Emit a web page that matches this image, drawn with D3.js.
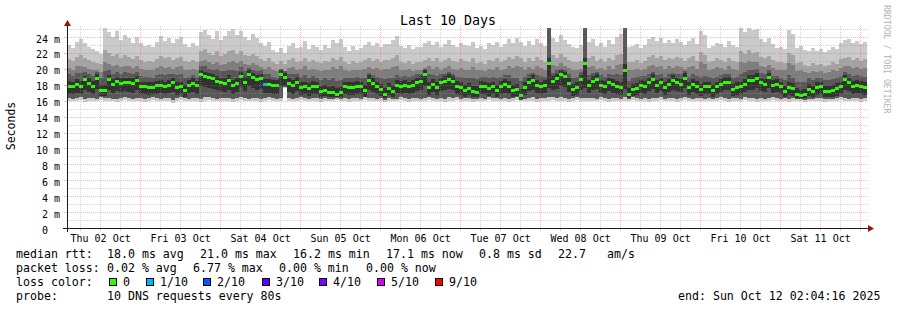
<!DOCTYPE html>
<html><head><meta charset="utf-8">
<script src="https://cdn.jsdelivr.net/npm/d3@7"></script>
<style>
html,body{margin:0;padding:0;background:#fff}
svg{display:block}
text{font-family:"DejaVu Sans Mono",monospace;fill:#000}
</style></head><body>
<svg id="chart" width="897" height="310"></svg>
<script>
// ---------------- DATA ----------------
const titleText = "Last 10 Days";
const yAxisLabel = "Seconds";
const endTime = Date.UTC(2025, 9, 12, 2, 4, 16);
const spanDays = 10;
const yTicks = [0, 2, 4, 6, 8, 10, 12, 14, 16, 18, 20, 22, 24];
const yTickLabels = ["0", "2 m", "4 m", "6 m", "8 m", "10 m", "12 m", "14 m", "16 m", "18 m", "20 m", "22 m", "24 m"];
const dayLabels = ["Thu 02 Oct", "Fri 03 Oct", "Sat 04 Oct", "Sun 05 Oct", "Mon 06 Oct", "Tue 07 Oct", "Wed 08 Oct", "Thu 09 Oct", "Fri 10 Oct", "Sat 11 Oct"];

// median rtt per time step (ms)
const median = [
17.9,17.8,18.1,17.9,18.7,18.2,17.9,18.9,17.35,17.35, 18.7,18.1,18.5,18.2,18.4,18.3,18.2,18.6,17.8,17.85,
17.7,17.75,17.95,18.0,17.85,18.0,18.3,17.7,17.85,17.35, 18.0,18.2,17.95,19.4,19.1,18.95,18.9,18.5,18.3,18.2,
18.6,18.0,18.2,19.1,18.4,19.3,18.95,18.7,18.9,18.1, 18.1,18.0,18.0,19.3,18.95,18.2,18.0,18.4,17.7,17.85,
17.6,17.9,17.8,17.25,17.4,17.05,17.15,16.9,17.05,17.8, 17.7,17.7,17.9,17.8,17.35,18.6,18.2,17.8,17.45,16.85,
17.6,17.25,18.0,17.9,18.0,17.8,18.0,18.3,18.5,19.3, 17.7,18.1,17.7,18.3,18.5,18.7,18.5,17.9,17.7,17.35,
17.6,17.25,17.15,17.9,17.8,17.6,17.85,17.35,17.9,18.1, 17.9,17.35,17.45,16.75,17.7,18.3,18.6,18.0,17.8,18.0,
20.7,18.5,18.9,19.3,19.1,18.2,17.5,17.7,18.7,20.7, 18.0,18.5,18.7,18.0,17.9,18.3,18.1,17.9,17.7,19.8,
16.85,17.5,17.6,18.0,17.9,18.3,18.7,18.0,18.3,17.7, 18.1,18.6,18.3,18.1,18.9,17.7,18.1,17.9,17.5,17.8,
17.8,17.35,17.8,18.1,18.4,18.4,17.5,17.7,17.8,18.1, 18.6,18.6,18.9,18.3,18.1,18.95,18.0,18.1,17.8,17.25,
17.7,17.6,16.9,16.75,16.85,17.5,17.25,17.7,17.8,17.25, 17.25,17.35,17.6,17.85,18.7,18.3,17.9,18.0,17.9,17.7
];
// lowest ping per step
const pMin = [
16.0,15.9,16.0,16.1,15.8,16.0,16.0,15.9,16.1,16.0, 16.0,15.9,15.8,16.0,16.1,16.0,15.9,16.0,16.0,15.8,
16.0,16.1,16.0,15.9,16.0,16.0,15.7,16.0,16.1,16.0, 15.9,16.0,16.0,15.8,16.0,16.1,16.0,15.9,16.0,16.0,
16.0,15.8,16.0,16.1,16.0,15.9,16.0,16.0,15.8,16.0, 16.1,16.0,15.9,16.0,17.6,16.0,15.9,16.0,16.1,16.0,
15.9,16.0,16.0,15.8,16.0,16.0,15.9,16.1,16.0,16.0, 15.8,16.0,16.0,15.9,16.1,16.0,16.0,15.9,16.0,15.8,
16.0,16.0,15.9,16.1,16.0,15.8,16.0,16.0,15.9,16.0, 16.1,16.0,15.9,16.0,15.8,16.0,16.0,16.1,15.9,16.0,
16.0,15.8,16.0,16.0,15.9,16.1,16.0,16.0,15.9,16.0, 15.8,16.0,16.1,16.0,15.9,16.0,16.0,15.8,16.0,16.0,
16.0,16.1,15.9,16.0,16.0,15.8,16.0,16.1,16.0,15.9, 16.0,16.0,15.9,16.1,16.0,15.8,16.0,16.0,15.9,16.0,
16.0,16.1,16.0,15.9,16.0,15.8,16.0,16.0,16.1,15.9, 16.0,16.0,15.8,16.0,16.1,16.0,15.9,16.0,16.0,15.9,
16.0,15.9,16.0,16.1,16.0,15.8,16.0,16.0,15.9,16.1, 16.0,16.0,15.8,16.0,15.9,16.0,16.1,16.0,15.9,16.0,
15.8,16.0,16.0,15.9,15.8,16.0,15.9,16.0,16.0,15.8, 15.9,16.0,16.0,16.1,16.0,15.9,16.0,16.0,15.8,16.0
];
// highest ping per step
const pMax = [
23.0,22.6,23.4,23.8,23.2,22.8,22.5,22.2,21.9,25.2, 24.6,24.0,24.8,23.6,24.2,23.9,23.3,24.0,23.2,22.9,
23.0,22.7,23.4,24.1,23.5,23.9,23.2,23.7,24.0,23.1, 22.8,23.3,22.9,24.6,24.9,24.2,23.8,24.7,23.6,24.1,
24.7,25.0,24.3,24.8,24.0,23.6,24.4,23.9,23.2,22.9, 23.4,22.4,22.1,22.6,22.0,22.9,23.3,22.6,22.8,23.5,
22.5,23.0,22.7,22.4,23.0,22.6,23.6,23.2,23.8,22.7, 22.3,22.9,22.4,22.6,23.0,23.4,22.9,23.3,22.8,23.1,
23.1,23.6,24.1,22.9,22.6,23.0,22.5,22.8,22.7,23.2, 23.5,23.0,23.4,22.8,23.1,23.6,23.0,22.7,23.3,23.0,
22.9,23.4,22.6,22.9,22.5,23.2,23.0,23.4,22.8,23.1, 23.7,23.3,23.9,23.4,22.9,23.5,23.0,23.8,23.2,22.9,
25.9,23.9,23.4,24.2,23.6,23.1,22.8,22.6,23.0,25.9, 23.4,23.8,22.9,23.3,22.7,23.6,23.1,24.0,24.4,25.9,
22.7,22.9,23.1,22.6,23.0,23.7,24.0,23.5,23.9,23.2, 23.6,23.3,23.8,23.4,23.0,23.5,23.9,23.1,24.7,24.2,
22.6,22.9,23.3,23.1,22.7,23.5,23.0,22.8,25.1,24.6, 25.3,24.9,25.0,23.7,23.4,23.9,23.1,22.6,22.8,22.5,
24.9,24.4,22.6,22.9,22.4,22.2,22.6,22.3,22.5,22.1, 22.4,22.8,22.5,23.3,23.6,23.8,23.2,23.5,23.1,23.4
];
// lower edge of the inner smoke bands
const pLow = [
16.3,16.2,16.3,16.4,16.2,16.3,16.3,16.2,16.4,16.3, 16.3,16.2,16.2,16.3,16.4,16.3,16.2,16.3,16.3,16.2,
16.3,16.4,16.3,16.2,16.3,16.3,16.1,16.3,16.4,16.3, 16.2,16.3,16.3,16.2,16.4,16.5,16.3,16.2,16.3,16.3,
16.3,16.2,16.3,16.4,16.3,16.2,16.3,16.3,16.2,16.3, 16.4,16.3,16.2,16.3,17.7,16.3,16.2,16.3,16.4,16.3,
16.2,16.3,16.3,16.2,16.3,16.2,16.2,16.3,16.2,16.3, 16.2,16.3,16.3,16.2,16.4,16.3,16.3,16.2,16.3,16.1,
16.3,16.2,16.2,16.4,16.3,16.2,16.3,16.3,16.2,16.3, 16.4,16.3,16.2,16.3,16.2,16.4,16.3,16.4,16.2,16.3,
16.3,16.2,16.2,16.3,16.2,16.4,16.3,16.3,16.2,16.3, 16.2,16.3,16.4,16.1,16.2,16.3,16.4,16.2,16.3,16.3,
16.4,16.4,16.3,16.4,16.3,16.2,16.3,16.4,16.3,16.3, 16.3,16.3,16.2,16.4,16.3,16.2,16.3,16.3,16.2,16.4,
16.2,16.4,16.3,16.2,16.3,16.2,16.3,16.3,16.4,16.2, 16.3,16.3,16.2,16.3,16.4,16.3,16.2,16.3,16.3,16.2,
16.3,16.2,16.3,16.4,16.3,16.2,16.3,16.3,16.2,16.4, 16.3,16.3,16.2,16.3,16.2,16.3,16.4,16.3,16.2,16.3,
16.2,16.3,16.2,16.2,16.1,16.2,16.2,16.3,16.3,16.2, 16.2,16.2,16.3,16.4,16.3,16.2,16.3,16.3,16.2,16.3
];
// upper edge of band 2 (2nd..9th ping)
const p2hi = [
21.2,21.0,21.5,21.7,21.3,21.1,20.9,20.7,20.6,22.4, 22.0,21.6,21.9,21.4,21.7,21.5,21.2,21.6,21.1,20.9,
21.0,20.8,21.2,21.6,21.3,21.5,21.1,21.4,21.5,21.0, 20.9,21.1,20.9,22.3,22.5,22.0,21.8,22.2,21.6,21.9,
22.2,22.4,21.9,22.3,21.8,21.6,21.9,21.6,21.2,21.0, 21.3,20.8,20.6,21.0,20.6,21.1,21.3,20.9,21.0,21.4,
20.8,21.1,20.9,20.7,21.0,20.8,21.4,21.1,21.5,20.9, 20.6,21.0,20.7,20.8,21.1,21.3,21.0,21.2,20.9,21.1,
21.1,21.4,21.7,20.9,20.7,21.0,20.6,20.9,20.8,21.1, 21.4,21.0,21.3,20.9,21.1,21.4,21.0,20.8,21.2,21.0,
20.9,21.3,20.7,20.9,20.6,21.1,21.0,21.3,20.9,21.1, 21.5,21.2,21.6,21.3,20.9,21.3,21.0,21.5,21.1,20.9,
25.8,21.7,21.4,21.9,21.5,21.1,20.9,20.8,21.0,25.8, 21.3,21.6,21.0,21.2,20.8,21.4,21.1,21.7,21.9,25.8,
20.8,20.9,21.1,20.7,21.0,21.5,21.7,21.3,21.6,21.1, 21.4,21.2,21.5,21.3,21.0,21.3,21.6,21.0,22.1,21.8,
20.8,21.0,21.3,21.1,20.8,21.4,21.0,20.9,22.2,21.9, 22.4,22.0,22.1,21.5,21.3,21.6,21.1,20.8,20.9,20.7,
22.0,21.7,20.7,20.9,20.5,20.4,20.7,20.5,20.6,20.3, 20.5,20.8,20.6,21.2,21.4,21.5,21.1,21.3,21.0,21.2
];
// upper edge of band 3 (3rd..8th ping)
const p3hi = [
20.1,19.9,20.3,20.4,20.2,20.0,19.9,19.8,19.6,20.8, 20.6,20.3,20.5,20.2,20.4,20.3,20.1,20.4,20.0,19.9,
19.9,19.8,20.1,20.3,20.1,20.2,20.0,20.2,20.3,19.9, 19.9,20.0,19.9,21.0,21.1,20.8,20.6,20.9,20.5,20.6,
20.8,21.0,20.7,21.0,20.6,20.5,20.7,20.5,20.2,20.0, 20.2,19.8,19.7,20.0,19.7,20.1,20.2,19.9,20.0,20.3,
19.8,20.0,19.9,19.7,19.9,19.8,20.2,20.0,20.3,19.9, 19.7,19.9,19.8,19.8,20.0,20.2,20.0,20.1,19.9,20.0,
20.0,20.2,20.4,19.9,19.8,20.0,19.7,19.9,19.8,20.1, 20.3,20.0,20.2,19.9,20.1,20.3,20.0,19.8,20.1,19.9,
19.9,20.2,19.8,19.9,19.7,20.0,19.9,20.2,19.9,20.0, 20.3,20.1,20.4,20.2,19.9,20.2,20.0,20.3,20.1,19.9,
25.7,20.5,20.3,20.7,20.4,20.1,19.9,19.8,20.0,25.6, 20.2,20.4,20.0,20.1,19.8,20.3,20.0,20.5,20.6,25.7,
19.8,19.9,20.0,19.8,20.0,20.3,20.5,20.2,20.4,20.0, 20.3,20.1,20.3,20.2,20.0,20.2,20.4,20.0,20.8,20.6,
19.9,20.0,20.2,20.1,19.9,20.3,20.0,19.9,20.9,20.7, 21.0,20.8,20.8,20.4,20.2,20.5,20.1,19.9,19.9,19.8,
20.7,20.5,19.7,19.9,19.6,19.5,19.7,19.6,19.7,19.5, 19.6,19.8,19.7,20.1,20.3,20.4,20.1,20.2,20.0,20.1
];
// upper edge of band 4 (4th..7th ping)
const p4hi = [
19.3,19.1,19.5,19.5,19.6,19.3,19.1,19.6,18.8,19.7, 19.8,19.4,19.6,19.4,19.6,19.5,19.3,19.6,19.1,19.0,
19.0,18.9,19.2,19.4,19.2,19.3,19.3,19.2,19.3,18.9, 19.0,19.2,19.0,20.3,20.4,20.0,19.9,20.0,19.7,19.7,
19.9,19.8,19.7,20.2,19.7,20.1,19.9,19.7,19.8,19.3, 19.3,19.0,18.9,20.0,19.7,19.3,19.3,19.3,19.0,19.2,
18.8,19.1,18.9,18.6,18.8,18.6,18.8,18.5,18.6,18.9, 18.8,18.9,19.0,18.9,18.8,19.5,19.2,19.0,18.8,18.7,
18.9,18.8,19.2,19.0,19.1,19.0,19.1,19.3,19.4,20.0, 19.3,19.2,19.1,19.3,19.4,19.6,19.4,19.0,19.0,18.8,
18.9,18.8,18.7,19.0,19.0,18.9,19.0,18.9,19.0,19.2, 19.2,18.8,18.9,18.5,19.0,19.3,19.5,19.2,19.1,19.0,
25.5,19.5,19.8,20.0,19.9,19.3,18.9,19.0,19.6,25.4, 19.2,19.5,19.6,19.2,19.0,19.4,19.2,19.3,19.2,25.5,
18.5,18.9,19.0,19.1,19.1,19.4,19.6,19.2,19.4,19.0, 19.3,19.5,19.4,19.3,19.7,19.0,19.3,19.1,19.0,19.1,
19.0,18.8,19.0,19.2,19.3,19.4,18.9,19.0,19.4,19.6, 19.9,19.8,20.0,19.5,19.3,19.8,19.1,19.1,18.9,18.6,
19.2,18.9,18.4,18.3,18.4,18.8,18.6,18.9,18.9,18.6, 18.6,18.7,18.8,19.1,19.6,19.4,19.1,19.2,19.1,19.0
];
// central band (5th..6th ping)
const p5lo = [
16.9,16.8,17.0,16.8,17.4,17.1,16.9,17.5,16.6,16.6, 17.3,17.0,17.2,17.1,17.2,17.1,17.0,17.3,16.8,16.9,
16.7,16.8,16.9,17.0,16.9,17.0,17.1,16.7,16.9,16.5, 17.0,17.1,16.9,17.9,17.7,17.6,17.5,17.3,17.2,17.1,
17.4,16.9,17.1,17.7,17.2,17.8,17.6,17.4,17.5,17.0, 17.0,16.9,16.9,17.8,17.8,17.1,16.9,17.2,16.7,16.8,
16.6,16.8,16.8,16.5,16.6,16.4,16.5,16.4,16.4,16.8, 16.7,16.7,16.9,16.8,16.5,17.4,17.1,16.8,16.6,16.3,
16.7,16.5,17.0,16.9,17.0,16.8,17.0,17.2,17.3,17.9, 16.7,17.1,16.7,17.2,17.3,17.5,17.3,16.9,16.7,16.5,
16.7,16.5,16.4,16.9,16.8,16.6,16.8,16.5,16.9,17.0, 16.9,16.5,16.6,16.2,16.7,17.2,17.4,17.0,16.8,17.0,
17.6,17.3,17.5,17.9,17.7,17.1,16.6,16.7,17.4,17.6, 17.0,17.3,17.5,17.0,16.9,17.2,17.0,16.9,16.7,17.5,
16.3,16.6,16.7,17.0,16.9,17.2,17.5,17.0,17.2,16.7, 17.1,17.4,17.2,17.1,17.6,16.7,17.1,16.9,16.6,16.8,
16.8,16.5,16.8,17.1,17.3,17.3,16.6,16.7,16.8,17.1, 17.4,17.4,17.6,17.2,17.1,17.6,17.0,17.1,16.8,16.4,
16.7,16.6,16.3,16.2,16.3,16.6,16.4,16.7,16.8,16.4, 16.4,16.5,16.6,16.8,17.4,17.2,16.9,17.0,16.9,16.7
];
const p5hi = [
18.5,18.4,18.7,18.5,19.1,18.8,18.5,19.3,18.0,18.0, 19.2,18.7,19.0,18.8,18.9,18.9,18.8,19.1,18.4,18.4,
18.3,18.3,18.5,18.6,18.4,18.6,18.8,18.3,18.4,18.0, 18.6,18.8,18.5,19.9,19.6,19.5,19.4,19.1,18.9,18.8,
19.2,18.6,18.8,19.6,19.0,19.8,19.5,19.2,19.4,18.7, 18.7,18.6,18.6,19.8,19.5,18.8,18.6,19.0,18.3,18.4,
18.2,18.5,18.4,17.9,18.0,17.7,17.8,17.6,17.7,18.4, 18.3,18.3,18.5,18.4,18.0,19.2,18.8,18.4,18.1,17.6,
18.2,17.9,18.6,18.5,18.6,18.4,18.6,18.9,19.1,19.8, 18.3,18.7,18.3,18.9,19.1,19.3,19.1,18.5,18.3,18.0,
18.2,17.9,17.8,18.5,18.4,18.2,18.4,18.0,18.5,18.7, 18.5,18.0,18.1,17.5,18.3,18.9,19.2,18.6,18.4,18.6,
21.4,19.1,19.4,19.8,19.6,18.8,18.1,18.3,19.2,21.4, 18.6,19.1,19.3,18.6,18.5,18.9,18.7,18.5,18.3,20.6,
17.6,18.1,18.2,18.6,18.5,18.9,19.3,18.6,18.9,18.3, 18.7,19.2,18.9,18.7,19.5,18.3,18.7,18.5,18.1,18.4,
18.4,18.0,18.4,18.7,19.0,19.0,18.1,18.3,18.4,18.7, 19.2,19.2,19.5,18.9,18.7,19.5,18.6,18.7,18.4,17.9,
18.3,18.2,17.6,17.4,17.5,18.1,17.9,18.3,18.4,17.9, 17.9,18.0,18.2,18.4,19.2,18.9,18.5,18.6,18.5,18.3
];
// steps with packet loss: [step index, lost pings of 10]
const lossEvents = [[49, 1]];

// legend content
const lossLabels = ["0", "1/10", "2/10", "3/10", "4/10", "5/10", "9/10"];
const lossColors = ["#26ff00", "#00b8ff", "#0059ff", "#5e00ff", "#7e00ff", "#dd00ff", "#ff0000"];
const legendRtt = ["median rtt:", "18.0 ms avg", "21.0 ms max", "16.2 ms min", "17.1 ms now", "0.8 ms sd", "22.7", "am/s"];
const legendLoss = ["packet loss:", "0.02 % avg", "6.77 % max", "0.00 % min", "0.00 % now"];
const legendProbe = ["probe:", "10 DNS requests every 80s"];
const endText = "end: Sun Oct 12 02:04:16 2025";
const watermark = "RRDTOOL / TOBI OETIKER";

// ---------------- LAYOUT / STYLE ----------------
const smokeColors = ["#cacaca", "#a4a4a4", "#7e7e7e", "#585858", "#323232"];
const plot = {left: 67, right: 867, top: 28, bottom: 228};
const rttX = [16, 107, 200, 293, 386, 479, 558, 607];
const lossX = [16, 107, 193, 279, 366];
const boxX = [109, 146, 203, 262, 319, 377, 435];
const legendFont = "11.6px";

const svg = d3.select("#chart");
const N = median.length;
[pMin, pMax, pLow, p2hi, p3hi, p4hi, p5lo, p5hi].forEach((a, k) => { if (a.length !== N) console.error("len", k, a.length); });

const startTime = endTime - spanDays * 864e5;
const stepMs = spanDays * 864e5 / N;
const times = d3.range(N + 1).map(i => new Date(startTime + i * stepMs));

const x = d3.scaleUtc().domain([new Date(startTime), new Date(endTime)]).range([plot.left, plot.right]);
const yMax = (plot.bottom - plot.top) / 7.958;
const y = d3.scaleLinear().domain([0, yMax]).range([plot.bottom, plot.top]);

svg.append("rect").attr("width", 897).attr("height", 310).attr("fill", "#fff");

svg.append("defs").append("clipPath").attr("id", "clip")
  .append("rect").attr("x", plot.left).attr("y", plot.top)
  .attr("width", plot.right - plot.left).attr("height", plot.bottom - plot.top);

const g = svg.append("g").attr("clip-path", "url(#clip)");

// smoke bands
const bands = [[pMin, pMax], [pLow, p2hi], [pLow, p3hi], [pLow, p4hi], [p5lo, p5hi]];
bands.forEach(([lo, hi], k) => {
  const area = d3.area().curve(d3.curveStepAfter)
    .x(i => x(times[i]))
    .y0(i => y(lo[Math.min(i, N - 1)]))
    .y1(i => y(hi[Math.min(i, N - 1)]));
  g.append("path").attr("d", area(d3.range(N + 1))).attr("fill", smokeColors[k]).attr("shape-rendering", "crispEdges");
});

// median marks coloured by loss
const lossAt = new Map(lossEvents);
const lossBucket = n => n === 0 ? 0 : n === 1 ? 1 : n === 2 ? 2 : n === 3 ? 3 : n === 4 ? 4 : n <= 5 ? 5 : 6;
g.selectAll("rect.med").data(median).join("rect").attr("class", "med")
  .attr("x", (d, i) => Math.round(x(times[i])))
  .attr("width", (d, i) => Math.round(x(times[i + 1])) - Math.round(x(times[i])))
  .attr("y", d => Math.round(y(d)) - 1)
  .attr("height", 3)
  .attr("fill", (d, i) => lossColors[lossBucket(lossAt.get(i) || 0)])
  .attr("shape-rendering", "crispEdges");

// grid (drawn on top, dotted)
const grid = svg.append("g").attr("shape-rendering", "crispEdges");
const minorColor = "rgba(150,150,150,0.42)";
const majorColor = "rgba(225,95,95,0.42)";
const hMinor = d3.range(1, Math.floor(yMax) + 1).filter(v => v % 2 !== 0);
grid.selectAll("line.hmin").data(hMinor).join("line")
  .attr("x1", plot.left).attr("x2", plot.right + 1)
  .attr("y1", d => Math.round(y(d)) + 0.5).attr("y2", d => Math.round(y(d)) + 0.5)
  .attr("stroke", minorColor).attr("stroke-dasharray", "1,1");
grid.selectAll("line.hmaj").data(yTicks.filter(v => v > 0)).join("line")
  .attr("x1", plot.left).attr("x2", plot.right + 1)
  .attr("y1", d => Math.round(y(d)) + 0.5).attr("y2", d => Math.round(y(d)) + 0.5)
  .attr("stroke", majorColor).attr("stroke-dasharray", "1,1");
const sixH = d3.utcHour.every(6).range(new Date(startTime), new Date(endTime));
const vMinor = sixH.filter(d => d.getUTCHours() !== 0);
const vMajor = sixH.filter(d => d.getUTCHours() === 0);
grid.selectAll("line.vmin").data(vMinor).join("line")
  .attr("x1", d => Math.round(x(d)) + 0.5).attr("x2", d => Math.round(x(d)) + 0.5)
  .attr("y1", plot.top - 2).attr("y2", plot.bottom)
  .attr("stroke", minorColor).attr("stroke-dasharray", "1,1");
grid.selectAll("line.vmaj").data(vMajor).join("line")
  .attr("x1", d => Math.round(x(d)) + 0.5).attr("x2", d => Math.round(x(d)) + 0.5)
  .attr("y1", plot.top - 2).attr("y2", plot.bottom)
  .attr("stroke", majorColor).attr("stroke-dasharray", "1,1");
// small ticks below the x axis
grid.selectAll("line.xt").data(sixH).join("line")
  .attr("x1", d => Math.round(x(d)) + 0.5).attr("x2", d => Math.round(x(d)) + 0.5)
  .attr("y1", plot.bottom + 1).attr("y2", plot.bottom + 3)
  .attr("stroke", d => d.getUTCHours() === 0 ? majorColor : minorColor);
grid.selectAll("line.yt").data(yTicks.filter(v => v > 0)).join("line")
  .attr("x1", plot.left - 3).attr("x2", plot.left)
  .attr("y1", d => Math.round(y(d)) + 0.5).attr("y2", d => Math.round(y(d)) + 0.5)
  .attr("stroke", majorColor);

// axes lines + arrows
const axisCol = "#1a1a1a", arrowCol = "#8f1616";
const y0 = Math.round(y(0)) + 0.5;
svg.append("line").attr("x1", plot.left - 4).attr("x2", plot.right + 2).attr("y1", y0).attr("y2", y0).attr("stroke", axisCol);
svg.append("line").attr("x1", plot.left + 0.5).attr("x2", plot.left + 0.5).attr("y1", plot.bottom + 4).attr("y2", plot.top - 3).attr("stroke", axisCol);
svg.append("path").attr("d", `M${plot.right + 1},${y0 - 3.5}L${plot.right + 7},${y0}L${plot.right + 1},${y0 + 3.5}Z`).attr("fill", arrowCol);
svg.append("path").attr("d", `M${plot.left + 0.5 - 3.5},${plot.top - 2}L${plot.left + 0.5},${plot.top - 8}L${plot.left + 0.5 + 3.5},${plot.top - 2}Z`).attr("fill", arrowCol);

// y axis labels via d3 axis
const yAxis = d3.axisLeft(y).tickValues(yTicks).tickSize(0).tickPadding(0)
  .tickFormat((d, i) => yTickLabels[i]);
const yg = svg.append("g").attr("transform", "translate(60,0)").call(yAxis);
yg.select(".domain").remove();
yg.selectAll("text").attr("font-size", "10px").attr("font-family", "DejaVu Sans Mono").attr("dy", "0.5em").attr("fill", "#000");
yg.selectAll(".tick").filter(d => d === 0).select("text").attr("x", -12);

// x axis labels via d3 axis (centred on noon)
const noons = dayLabels.map((s, i) => new Date(Date.UTC(2025, 9, 2 + i, 12)));
const xAxis = d3.axisBottom(x).tickValues(noons).tickSize(0).tickPadding(6.4)
  .tickFormat((d, i) => dayLabels[i]);
const xg = svg.append("g").attr("transform", `translate(0,${plot.bottom})`).call(xAxis);
xg.select(".domain").remove();
xg.selectAll("text").attr("font-size", "10px").attr("font-family", "DejaVu Sans Mono").attr("fill", "#000");

// title, y label, watermark
svg.append("text").attr("x", 448).attr("y", 24.5).attr("text-anchor", "middle")
  .attr("font-size", "13.3px").text(titleText);
svg.append("text").attr("transform", "translate(15,126) rotate(-90)").attr("text-anchor", "middle")
  .attr("font-size", "11.5px").text(yAxisLabel);
svg.append("text").attr("transform", "translate(883.5,5) rotate(90)")
  .attr("font-size", "8.2px").style("fill", "#b4b4b4").text(watermark);

// legend
const leg = svg.append("g").attr("font-size", legendFont);
leg.selectAll("text.r").data(legendRtt).join("text").attr("x", (d, i) => rttX[i]).attr("y", 258).text(d => d);
leg.selectAll("text.l").data(legendLoss).join("text").attr("x", (d, i) => lossX[i]).attr("y", 272).text(d => d);
leg.append("text").attr("x", 16).attr("y", 286).text("loss color:");
leg.selectAll("rect.b").data(lossColors).join("rect")
  .attr("x", (d, i) => boxX[i] + 0.5).attr("y", 278.5).attr("width", 7).attr("height", 7)
  .attr("fill", d => d).attr("stroke", "#000").attr("stroke-width", 1);
leg.selectAll("text.c").data(lossLabels).join("text").attr("x", (d, i) => boxX[i] + 14).attr("y", 286).text(d => d);
leg.selectAll("text.p").data(legendProbe).join("text").attr("x", (d, i) => i === 0 ? 16 : 107).attr("y", 300).text(d => d);
leg.append("text").attr("x", 678).attr("y", 300).text(endText);
</script>
</body></html>
